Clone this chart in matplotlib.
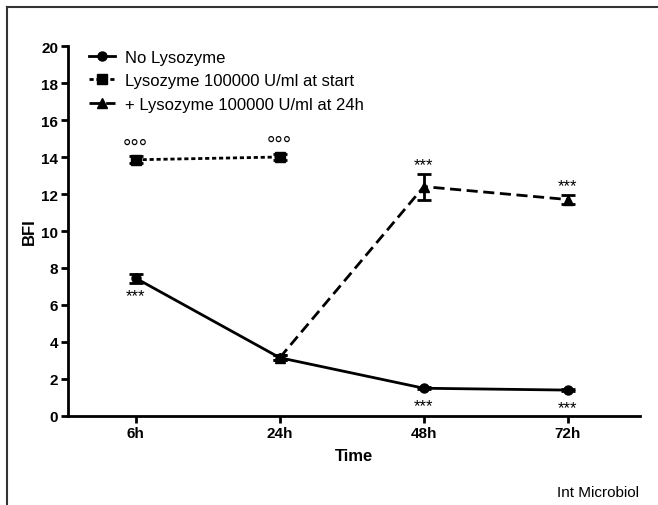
import matplotlib
matplotlib.use('Agg')
import matplotlib.pyplot as plt
from matplotlib.lines import Line2D

plt.rcParams['font.family'] = ['Liberation Sans', 'DejaVu Sans']

times = ['6h', '24h', '48h', '72h']

# No lysozyme
no_lys = [7.45, 3.15, 1.5, 1.4]
no_lys_err = [0.25, 0.15, 0.05, 0.05]

# lysozyme at start (only 6h and 24h)
start_lys = [13.85, 14.0]
start_lys_err = [0.2, 0.15]

# lysozyme added at 24h (from 24h on)
late_lys = [3.15, 12.4, 11.7]
late_lys_err = [0.15, 0.7, 0.25]

labels = ['No Lysozyme', 'Lysozyme 100000 U/ml at start', '+ Lysozyme 100000 U/ml at 24h']
DOT = (0, (1.5, 1))
DASH = (0, (4, 2))

fig = plt.figure(figsize=(6.58, 5.06), dpi=100)
ax = fig.add_axes([0.1033, 0.1759, 0.8693, 0.7312])

x = list(range(len(times)))

ax.errorbar(x, no_lys, yerr=no_lys_err, color='black', lw=2, marker='o', ms=6.5,
            capsize=5, capthick=2, elinewidth=2)
ax.errorbar(x[:2], start_lys, yerr=start_lys_err, color='black', lw=2, ls=DOT,
            marker='s', ms=7, capsize=5, capthick=2, elinewidth=2)
ax.errorbar(x[1:], late_lys, yerr=late_lys_err, color='black', lw=2, ls=DASH,
            marker='^', ms=7, capsize=5, capthick=2, elinewidth=2)

# significance marks
for i in [0, 2, 3]:
    ax.annotate('***', (x[i], no_lys[i]), xytext=(0, -7), textcoords='offset points',
                ha='center', va='top', fontsize=12)
for i, v in enumerate(late_lys[1:]):
    ax.annotate('***', (x[i + 2], v + late_lys_err[i + 1]), xytext=(0, 1),
                textcoords='offset points', ha='center', va='bottom', fontsize=12)
for i, v in enumerate(start_lys):
    ax.annotate('°°°', (x[i], v), xytext=(0, 2), textcoords='offset points',
                ha='center', va='bottom', fontsize=15)

ax.set_xlim(-0.47, 3.5)
ax.set_ylim(0, 20)
ax.set_yticks(range(0, 21, 2))
ax.set_xticks(x)
ax.set_xticklabels(times)
for s in ['top', 'right']:
    ax.spines[s].set_visible(False)
for s in ['left', 'bottom']:
    ax.spines[s].set_linewidth(2)
ax.tick_params(width=2, length=5, pad=2, labelsize=11)
for t in ax.get_xticklabels() + ax.get_yticklabels():
    t.set_fontweight('bold')

ax.set_ylabel('BFI', fontsize=12, fontweight='bold')
ax.yaxis.set_label_coords(-0.055, 0.5)
ax.set_xlabel('Time', fontsize=12, fontweight='bold', labelpad=6)

handles = [
    Line2D([], [], color='black', lw=2, marker='o', ms=6.5),
    Line2D([], [], color='black', lw=2, ls=DOT, marker='s', ms=7),
    Line2D([], [], color='black', lw=2, ls=DASH, marker='^', ms=7),
]
ax.legend(handles, labels, loc='upper left', bbox_to_anchor=(0.01, 1.03), frameon=False,
          fontsize=12, handlelength=1.6, handletextpad=0.6, labelspacing=0.5)

# frame lines on left and top of the figure
fig.add_artist(Line2D([7 / 658, 7 / 658], [0, 1 - 8 / 506], color='#333333', lw=1.5))
fig.add_artist(Line2D([7 / 658, 1], [1 - 8 / 506, 1 - 8 / 506], color='#333333', lw=1.5))

fig.text(598 / 658, 1 - 493 / 506, 'Int Microbiol', ha='center', va='center', fontsize=11)

fig.savefig('out.png', dpi=100)
